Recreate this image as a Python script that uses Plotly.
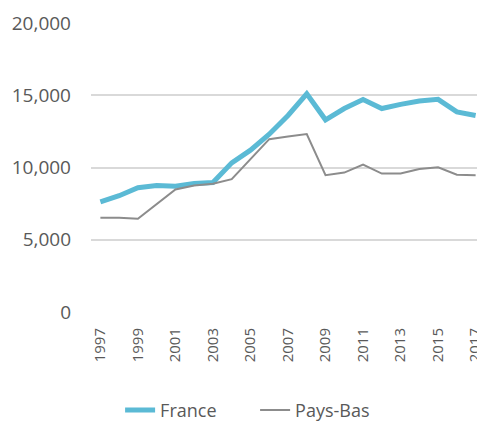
import plotly.graph_objects as go

years = list(range(1997, 2018))
france = [7620, 8050, 8600, 8750, 8710, 8890, 8960, 10320, 11200, 12300, 13600,
          15100, 13300, 14080, 14700, 14080, 14370, 14600, 14720, 13850, 13600]
pays_bas = [6520, 6520, 6450, 7460, 8480, 8750, 8870, 9190, 10550, 11960, 12140,
            12320, 9470, 9650, 10200, 9580, 9580, 9900, 10020, 9500, 9470]
tick_years = list(range(1997, 2018, 2))

fig = go.Figure()
fig.add_trace(go.Scatter(x=years, y=france, name="France", mode="lines",
                         line=dict(color="#5BBAD5", width=5)))
fig.add_trace(go.Scatter(x=years, y=pays_bas, name="Pays-Bas", mode="lines",
                         line=dict(color="#8C8C8C", width=2)))

font_color = "#595959"
# page body has an 8px default margin, so the figure is sized to fit the window
fig.update_layout(
    width=477, height=413,
    margin=dict(l=83, r=0, t=15, b=109, autoexpand=False),
    paper_bgcolor="white", plot_bgcolor="white",
    font=dict(family="Open Sans", color=font_color),
    showlegend=True,
    legend=dict(orientation="h", xref="container", yref="paper",
                x=0.235, xanchor="left", y=-0.34, yanchor="middle",
                entrywidth=90, entrywidthmode="pixels",
                font=dict(size=18, color=font_color)),
    xaxis=dict(range=[1996.5, 2017.5], tickvals=tick_years,
               ticktext=[str(y) for y in tick_years],
               tickangle=-90, tickfont=dict(size=15, color=font_color),
               showgrid=False, zeroline=False, showline=False, ticks="",
               ticklabelstandoff=12, automargin=False),
    yaxis=dict(range=[0, 20000], dtick=5000, tickformat=",",
               tickfont=dict(size=19, color=font_color),
               showgrid=True, gridcolor="#D9D9D9", gridwidth=1.5,
               zeroline=False, showline=False, ticks="", ticklabelstandoff=19,
               automargin=False),
)

fig.write_html("out.html")
